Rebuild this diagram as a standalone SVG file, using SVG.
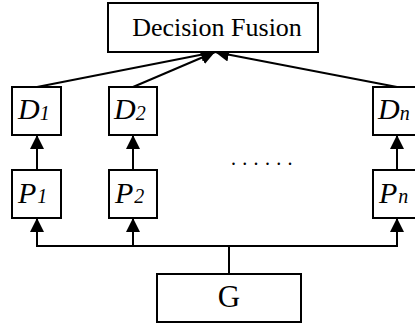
<svg xmlns="http://www.w3.org/2000/svg" width="415" height="324" viewBox="0 0 415 324">
<style>
.box{fill:#fff;stroke:#000;stroke-width:2}
.ln{fill:none;stroke:#000;stroke-width:2}
.t{font-family:"Liberation Serif","Times New Roman",serif;fill:#000}
.it{font-style:italic;font-size:30px}
.sub{font-style:italic;font-size:20px}
</style>
<defs>
<marker id="ah" markerWidth="14" markerHeight="14" refX="14" refY="7" orient="auto" markerUnits="userSpaceOnUse">
<path d="M0,0 L14,7 L0,14 Z" fill="#000"/>
</marker>
</defs>
<g id="connectors">
<line class="ln" x1="37" y1="87" x2="215" y2="52" marker-end="url(#ah)"/>
<line class="ln" x1="133" y1="87" x2="215" y2="52" marker-end="url(#ah)"/>
<line class="ln" x1="397" y1="87" x2="215" y2="52" marker-end="url(#ah)"/>
<line class="ln" x1="37" y1="170" x2="37" y2="135" marker-end="url(#ah)"/>
<line class="ln" x1="133" y1="170" x2="133" y2="135" marker-end="url(#ah)"/>
<line class="ln" x1="397" y1="170" x2="397" y2="135" marker-end="url(#ah)"/>
<polyline class="ln" points="37,246 397,246"/>
<line class="ln" x1="37" y1="247" x2="37" y2="218" marker-end="url(#ah)"/>
<line class="ln" x1="133" y1="247" x2="133" y2="218" marker-end="url(#ah)"/>
<line class="ln" x1="397" y1="247" x2="397" y2="218" marker-end="url(#ah)"/>
<line class="ln" x1="229" y1="245" x2="229" y2="274"/>
</g>
<g id="fusion">
<rect class="box" x="108" y="3" width="210" height="49"/>
<text class="t" x="217" y="36" font-size="26" text-anchor="middle">Decision Fusion</text>
</g>
<g id="D1">
<rect class="box" x="12" y="87" width="49" height="48"/>
<text class="t" x="18" y="119"><tspan class="it">D</tspan><tspan class="sub" dy="1">1</tspan></text>
</g>
<g id="D2">
<rect class="box" x="109" y="87" width="48" height="48"/>
<text class="t" x="114" y="119"><tspan class="it">D</tspan><tspan class="sub" dy="1">2</tspan></text>
</g>
<g id="Dn">
<rect class="box" x="373" y="87" width="49" height="48"/>
<text class="t" x="378" y="119"><tspan class="it">D</tspan><tspan class="sub" dy="1">n</tspan></text>
</g>
<g id="P1">
<rect class="box" x="12" y="170" width="49" height="48"/>
<text class="t" x="18" y="203"><tspan class="it">P</tspan><tspan class="sub" dx="1">1</tspan></text>
</g>
<g id="P2">
<rect class="box" x="109" y="170" width="48" height="48"/>
<text class="t" x="115" y="203"><tspan class="it">P</tspan><tspan class="sub" dx="1">2</tspan></text>
</g>
<g id="Pn">
<rect class="box" x="373" y="170" width="49" height="48"/>
<text class="t" x="379" y="203"><tspan class="it">P</tspan><tspan class="sub" dx="1">n</tspan></text>
</g>
<g id="dots">
<text class="t" x="231" y="165" font-size="20" letter-spacing="6.3">......</text>
</g>
<g id="G">
<rect class="box" x="157" y="274" width="144" height="48"/>
<text class="t" x="229" y="307" font-size="31" text-anchor="middle">G</text>
</g>
</svg>
